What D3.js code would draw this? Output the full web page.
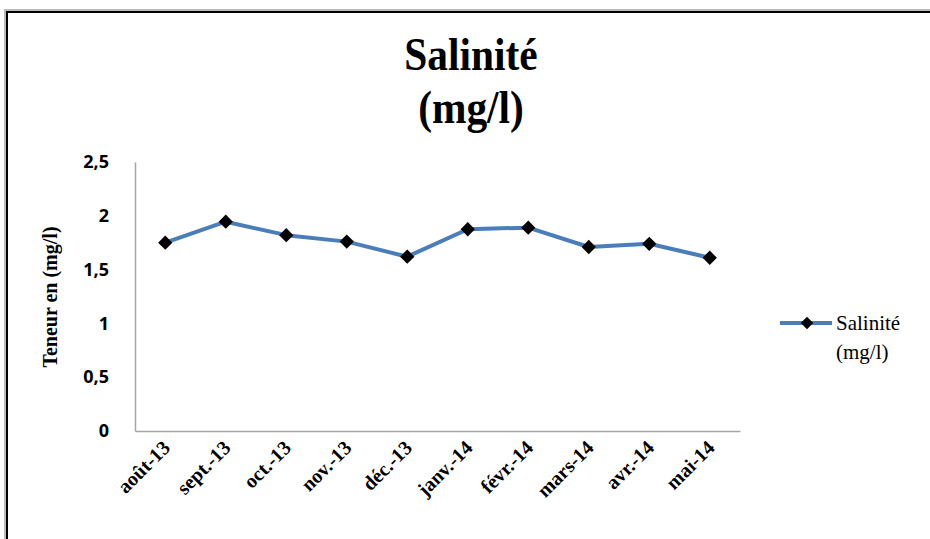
<!DOCTYPE html>
<html>
<head>
<meta charset="utf-8">
<script src="https://cdn.jsdelivr.net/npm/d3@7"></script>
<style>
  body { margin: 0; background: #fff; }
</style>
</head>
<body>
<div id="chart"></div>
<script>
// donnees
const months = ["août-13", "sept.-13", "oct.-13", "nov.-13", "déc.-13",
                "janv.-14", "févr.-14", "mars-14", "avr.-14", "mai-14"];
const salinite = [1.75, 1.945, 1.82, 1.76, 1.62, 1.875, 1.89, 1.71, 1.74, 1.61];
const yTicks = [0, 0.5, 1, 1.5, 2, 2.5];

const W = 930, H = 539;
const margin = {top: 162, right: 190, bottom: 108, left: 135},
width = W - margin.left - margin.right,
height = H - margin.top - margin.bottom;

const serif = "'Liberation Serif', 'Times New Roman', serif";

const svg = d3.select("#chart")
.append("svg")
.attr("width", W)
.attr("height", H);

// cadre
svg.append("path")
.attr("d", `M6,${H} V11 H${W}`)
.attr("fill", "none")
.attr("stroke", "#bbb")
.attr("stroke-width", 4);
svg.append("path")
.attr("d", `M7,${H} V12 H${W}`)
.attr("fill", "none")
.attr("stroke", "#000")
.attr("stroke-width", 2);

// titre (un peu etire en hauteur comme l'original)
const titre = svg.append("g")
.attr("transform", "translate(471, 0) scale(0.92, 1.05)");
titre.append("text")
.attr("x", 0).attr("y", 67)
.attr("text-anchor", "middle")
.style("font-family", serif)
.style("font-weight", "bold")
.style("font-size", "45px")
.text("Salinité");
titre.append("text")
.attr("x", 0).attr("y", 117)
.attr("text-anchor", "middle")
.style("font-family", serif)
.style("font-weight", "bold")
.style("font-size", "45px")
.text("(mg/l)");

const g = svg.append("g")
.attr("transform", `translate(${margin.left}, ${margin.top})`);

const x = d3.scaleBand()
.domain(months)
.range([0, width]);

const y = d3.scaleLinear()
.domain([0, 2.5])
.range([height, 0]);

// axe y
const yAxis = g.append("g")
.call(d3.axisLeft(y).tickValues(yTicks).tickSize(0).tickPadding(26)
  .tickFormat(d => String(d).replace(".", ",")));
yAxis.select(".domain").attr("stroke", "#a6a6a6").attr("stroke-width", 1.5);
yAxis.selectAll("text")
.style("font-family", "'Open Sans', 'DejaVu Sans', sans-serif")
.style("font-weight", "bold")
.style("font-size", "18px")
.attr("fill", "#000");

// axe x
const xAxis = g.append("g")
.attr("transform", `translate(0, ${height})`)
.call(d3.axisBottom(x).tickSize(0).tickPadding(0));
xAxis.select(".domain").attr("stroke", "#a6a6a6").attr("stroke-width", 1.5);
xAxis.selectAll("text")
.style("font-family", serif)
.style("font-weight", "bold")
.style("font-size", "20px")
.attr("fill", "#000")
.attr("text-anchor", "end")
.attr("dy", null)
.attr("transform", "translate(6, 18) rotate(-45)");

// titre axe y
svg.append("text")
.attr("transform", "translate(57, 297) rotate(-90)")
.attr("text-anchor", "middle")
.style("font-family", serif)
.style("font-weight", "bold")
.style("font-size", "20px")
.text("Teneur en (mg/l)");

// ligne
const line = d3.line()
.x((d, i) => x(months[i]) + x.bandwidth() / 2)
.y(d => y(d));

g.append("path")
.datum(salinite)
.attr("fill", "none")
.attr("stroke", "#4a7ebb")
.attr("stroke-width", 4)
.attr("stroke-linejoin", "round")
.attr("d", line);

const diamond = d3.symbol().type(d3.symbolDiamond2).size(130);

g.selectAll(".pt")
.data(salinite)
.join("path")
.attr("class", "pt")
.attr("transform", (d, i) => `translate(${x(months[i]) + x.bandwidth() / 2}, ${y(d)})`)
.attr("d", diamond)
.attr("fill", "#000");

// legende
const leg = svg.append("g").attr("transform", "translate(780, 323)");
leg.append("line")
.attr("x1", 0).attr("x2", 52)
.attr("stroke", "#4a7ebb")
.attr("stroke-width", 4);
leg.append("path")
.attr("transform", "translate(27, 0)")
.attr("d", d3.symbol().type(d3.symbolDiamond2).size(100))
.attr("fill", "#000");
leg.append("text")
.attr("x", 56).attr("y", 7)
.style("font-family", serif)
.style("font-size", "21px")
.text("Salinité");
leg.append("text")
.attr("x", 56).attr("y", 36)
.style("font-family", serif)
.style("font-size", "21px")
.text("(mg/l)");
</script>
</body>
</html>
